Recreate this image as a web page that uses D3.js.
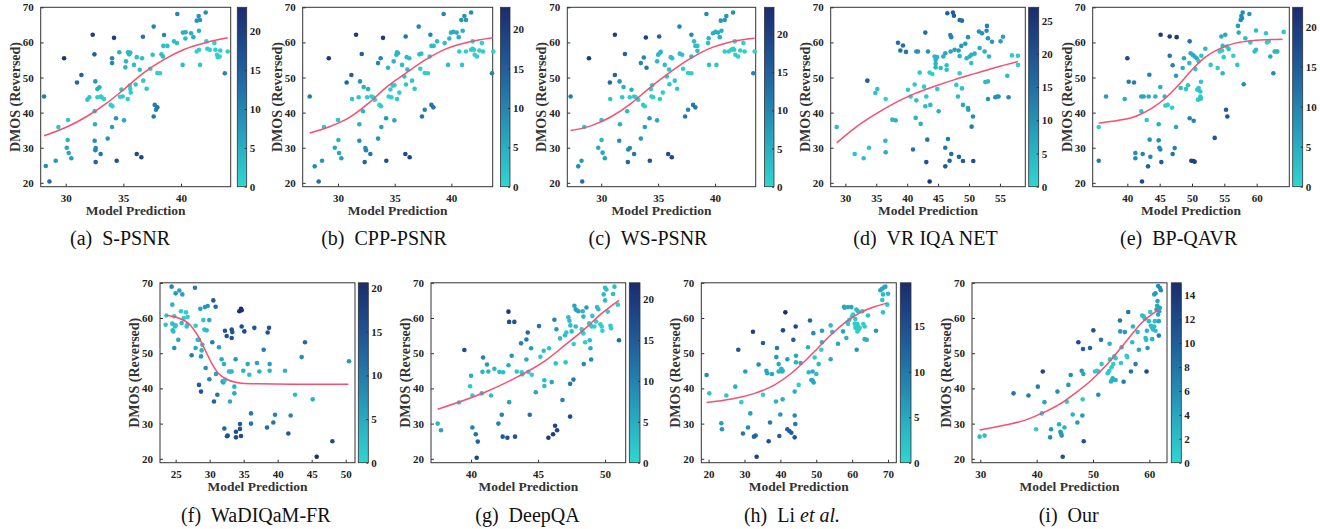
<!DOCTYPE html>
<html>
<head>
<meta charset="utf-8">
<script src="https://cdn.jsdelivr.net/npm/d3@7"></script>
<style>
  body { margin: 0; background: #fff; }
  text { font-family: "Liberation Serif", "Times New Roman", serif; }
</style>
</head>
<body>
<script>
// scatter points: [model prediction, DMOS (reversed), colour value]
const ptsA = [[28.12,44.6,11],[28.27,24.8,9],[28.59,20.4,13],[29.13,26.3,8],[29.36,35.9,2],[29.86,55.5,21],[30.09,30.0,6],[30.2,37.9,2],[30.17,32.2,4],[30.26,28.5,6],[30.49,27.0,7],[30.98,48.6,14],[31.36,50.7,15],[31.88,43.7,2],[32.05,44.4,2],[32.34,62.2,20],[32.49,56.6,15],[32.51,40.4,4],[32.54,36.7,5],[32.51,32.0,9],[32.57,48.9,8],[32.6,29.9,10],[32.57,29.3,10],[32.6,25.9,14],[32.75,46.7,5],[32.92,47.2,5],[32.75,44.4,1],[33.03,44.6,1],[33.12,44.4,1],[33.32,43.9,1],[33.03,28.2,12],[33.64,32.6,8],[33.9,42.2,1],[34.05,41.8,1],[34.02,55.5,10],[34.02,54.1,10],[34.02,35.9,7],[34.19,61.3,20],[34.36,38.4,8],[34.42,26.3,17],[34.65,57.2,5],[34.71,44.5,1],[34.94,44.6,1],[34.83,46.6,1],[35.06,37.8,6],[35.23,54.6,4],[35.17,52.9,4],[35.38,43.9,1],[35.4,57.2,4],[35.5,56.6,4],[35.6,57.1,4],[35.55,47.7,1],[35.6,46.7,1],[35.64,45.7,1],[35.92,53.6,3],[36.07,48.0,2],[36.16,55.8,3],[36.16,28.2,18],[36.42,52.2,3],[36.56,27.3,19],[36.62,55.5,3],[36.7,61.6,12],[36.73,49.1,2],[37.02,46.8,2],[37.34,52.5,1],[37.54,56.5,3],[37.63,64.5,10],[37.63,38.9,12],[37.72,42.2,11],[37.83,40.8,10],[37.95,41.5,12],[37.95,51.3,1],[38.18,51.2,1],[38.3,56.6,3],[38.44,56.0,3],[38.47,59.0,3],[38.53,62.1,10],[38.82,59.0,3],[39.39,60.3,3],[39.65,59.8,3],[39.68,68.1,10],[40.14,53.6,3],[40.17,62.8,5],[40.38,61.1,4],[40.4,62.9,5],[40.87,62.6,5],[41.07,61.5,5],[41.36,66.2,8],[41.36,57.4,1],[41.53,67.5,8],[41.56,63.3,5],[41.56,57.9,1],[41.65,66.4,8],[41.65,53.6,2],[42.14,68.5,9],[42.2,60.3,1],[42.28,58.2,1],[42.5,57.9,1],[42.9,59.8,1],[42.98,57.9,1],[43.12,56.5,1],[43.2,55.8,1],[43.35,56.0,1],[43.4,57.7,1],[43.8,51.2,10],[44.05,57.4,1]];
const fitA = [[28.12,33.4],[30.09,35.9],[31.82,38.9],[33.55,42.7],[35.0,46.5],[36.73,51.25],[38.47,55.0],[40.2,57.9],[42.23,60.0],[44.05,61.3]];

const ptsB = [[27.5,44.6,11],[27.94,24.7,9],[28.29,20.4,13],[28.59,26.3,8],[28.76,35.9,2],[29.18,55.5,21],[29.71,30.0,6],[30.0,37.9,2],[30.03,32.2,4],[30.09,28.5,6],[30.29,27.0,7],[30.76,48.6,14],[31.18,50.7,15],[31.24,43.9,2],[31.59,62.2,20],[31.82,44.4,2],[31.88,36.7,5],[31.88,32.0,9],[31.94,48.9,8],[32.09,56.7,15],[32.26,47.3,5],[32.2,40.4,4],[32.35,25.9,14],[32.41,29.9,10],[32.47,29.3,10],[32.56,44.4,1],[32.65,46.7,5],[32.85,28.2,12],[32.94,44.6,1],[33.09,44.4,1],[33.24,43.7,1],[33.53,32.6,8],[33.53,54.1,10],[33.65,42.2,1],[33.79,41.8,1],[33.76,55.5,10],[33.82,35.9,7],[33.97,61.3,20],[34.24,38.4,8],[34.26,26.3,17],[34.41,52.8,4],[34.47,44.6,1],[34.62,46.6,1],[34.71,44.4,1],[34.82,47.7,1],[34.91,54.6,4],[34.97,37.8,6],[34.97,47.8,1],[35.15,56.5,4],[35.21,57.2,4],[35.29,56.9,4],[35.21,43.9,1],[35.41,45.7,1],[35.65,53.6,3],[35.85,50.3,2],[35.97,61.7,12],[35.94,28.2,18],[36.0,48.0,2],[36.06,55.8,3],[36.12,52.3,3],[36.29,55.5,3],[36.32,27.3,19],[36.53,49.1,2],[36.76,46.8,2],[37.12,64.5,10],[37.18,56.6,3],[37.35,56.8,3],[37.26,52.5,1],[37.41,38.9,12],[37.65,51.3,1],[37.94,51.2,1],[37.65,40.8,10],[38.15,62.2,10],[38.09,56.0,3],[38.24,42.2,12],[38.41,41.5,12],[38.24,59.0,3],[38.44,59.0,3],[38.74,60.3,3],[39.32,68.1,10],[39.41,59.8,3],[39.71,53.6,3],[39.82,61.1,4],[39.97,62.8,5],[40.18,63.0,5],[40.47,62.8,5],[40.65,61.5,5],[40.7,57.4,1],[40.94,53.6,2],[41.0,63.3,5],[40.88,66.4,8],[41.15,67.5,8],[41.29,66.4,8],[41.29,57.4,1],[41.74,68.5,9],[41.74,57.9,1],[41.88,58.2,1],[42.0,57.9,1],[41.88,60.3,1],[42.06,56.5,1],[42.26,56.0,1],[42.47,57.7,1],[42.7,59.8,1],[42.79,57.4,1],[43.59,51.2,10],[43.7,57.4,1]];
const fitB = [[27.5,34.2],[29.18,35.9],[30.94,38.5],[32.7,42.7],[34.18,47.0],[35.94,51.1],[37.7,55.0],[39.47,58.1],[41.53,60.1],[43.65,61.3]];

const ptsC = [[27.31,44.6,11],[27.98,24.7,9],[28.33,20.4,13],[28.27,26.3,8],[28.51,35.9,2],[28.92,55.5,21],[29.74,30.0,6],[30.03,37.9,2],[30.03,32.2,4],[30.12,28.6,6],[30.32,27.0,7],[30.76,48.6,14],[31.2,50.7,15],[30.79,43.9,2],[31.2,62.2,20],[31.61,48.9,8],[31.64,36.7,5],[31.58,32.0,9],[31.84,44.4,2],[31.96,47.3,5],[32.08,56.7,15],[32.28,40.4,4],[32.34,25.9,14],[32.37,29.5,10],[32.51,29.9,10],[32.51,44.4,1],[32.66,46.5,5],[32.89,28.2,12],[32.89,44.6,1],[33.04,44.4,1],[33.25,43.7,1],[33.48,32.6,8],[33.48,54.1,10],[33.68,42.2,1],[33.83,41.8,1],[33.74,55.7,10],[33.83,35.9,7],[33.92,61.4,20],[33.98,52.8,12],[34.27,26.3,17],[34.24,38.4,8],[34.36,46.7,1],[34.42,44.6,1],[34.56,44.4,1],[34.47,47.8,1],[34.91,54.6,4],[34.91,37.8,6],[35.0,56.5,4],[35.12,56.9,4],[35.09,61.7,15],[35.23,57.3,4],[35.15,43.9,1],[35.41,45.7,1],[35.58,53.6,3],[35.76,50.3,2],[35.88,28.2,18],[35.96,52.3,2],[35.99,48.1,2],[36.11,55.8,3],[36.23,55.5,3],[36.2,27.3,19],[36.46,49.1,2],[36.67,46.8,2],[36.87,64.5,10],[36.9,56.8,3],[37.11,56.5,3],[37.19,52.5,1],[37.37,38.9,12],[37.63,40.8,10],[37.63,51.3,1],[37.92,51.2,1],[37.92,62.2,10],[37.92,56.0,3],[38.07,42.2,12],[38.27,41.5,12],[38.16,60.3,3],[38.27,59.0,3],[38.45,59.0,3],[38.45,57.6,3],[39.24,68.1,10],[39.39,59.8,3],[39.44,61.2,4],[39.47,53.6,3],[39.82,62.6,5],[40.03,63.0,5],[40.26,62.8,5],[40.12,53.6,2],[40.41,61.5,5],[40.56,63.3,5],[40.5,66.2,8],[40.85,66.4,8],[40.99,67.5,8],[40.85,57.4,1],[41.58,68.5,9],[41.2,57.4,1],[41.43,57.9,1],[41.58,58.2,1],[41.67,57.9,1],[41.73,60.3,1],[41.78,56.5,1],[42.02,56.0,1],[42.22,57.7,1],[42.49,59.8,1],[42.6,57.4,1],[43.36,51.2,10],[43.48,57.4,1]];
const fitC = [[27.31,34.9],[29.15,36.3],[30.91,38.9],[32.66,42.7],[34.12,46.7],[35.88,51.1],[37.63,55.0],[39.39,58.1],[41.43,60.2],[43.48,61.2]];

const ptsD = [[28.6,35.9,4],[31.51,28.2,3],[32.96,27.0,3],[33.56,49.1,18],[33.83,30.0,3],[34.85,45.6,3],[35.17,46.7,3],[36.52,43.9,1],[36.47,32.0,5],[36.52,28.7,6],[37.6,38.0,5],[38.14,37.8,5],[38.51,59.9,15],[39.32,59.1,15],[38.89,57.7,15],[39.81,57.3,14],[40.13,46.5,2],[40.56,44.6,2],[40.94,29.5,14],[41.21,48.0,2],[41.37,38.5,5],[41.48,43.5,3],[41.48,57.4,10],[41.75,57.4,10],[42.02,51.4,2],[42.18,36.8,6],[42.72,47.4,1],[42.93,41.8,4],[43.09,44.6,2],[42.93,62.8,15],[43.09,25.9,20],[43.25,32.3,14],[43.36,57.4,10],[43.63,51.4,1],[43.74,42.2,4],[44.06,51.0,1],[43.63,20.4,25],[44.44,56.0,5],[44.6,55.0,5],[44.6,53.9,5],[44.6,52.9,5],[44.82,55.8,5],[44.87,46.7,2],[45.09,40.4,6],[45.41,52.7,4],[45.84,56.0,6],[46.16,56.9,7],[46.16,30.0,14],[46.16,24.7,18],[46.38,52.2,3],[46.38,53.5,3],[46.49,68.3,17],[46.59,32.5,13],[46.86,26.3,17],[47.03,57.4,8],[46.97,62.1,12],[47.13,61.5,12],[47.13,28.2,16],[47.4,68.5,18],[47.56,67.6,18],[47.67,57.9,8],[47.94,47.9,2],[48.21,44.6,4],[48.32,57.7,8],[48.37,27.4,17],[48.48,51.2,1],[48.48,56.1,5],[48.48,66.4,15],[48.86,66.2,15],[48.75,59.0,9],[48.86,46.9,3],[49.02,42.2,7],[49.02,26.2,18],[49.4,59.6,9],[49.61,55.5,5],[49.83,41.3,8],[49.88,40.8,8],[49.83,61.5,10],[50.1,56.0,5],[50.37,56.5,5],[50.37,54.1,3],[50.42,36.0,13],[50.64,38.9,11],[50.69,26.2,20],[50.9,56.8,5],[51.6,63.1,10],[52.09,62.6,10],[51.71,58.4,6],[52.52,57.4,6],[52.63,48.7,4],[53.06,48.9,4],[52.9,64.7,12],[52.84,63.3,11],[53.06,61.2,10],[53.22,56.0,5],[53.06,43.9,10],[53.71,60.2,9],[54.25,44.4,10],[54.57,44.6,10],[54.78,44.6,10],[55.1,60.3,8],[55.49,61.6,8],[56.19,50.5,4],[56.4,44.4,11],[56.94,56.3,2],[57.91,56.2,2],[57.91,53.6,1]];
const fitD = [[28.6,31.4],[31.51,35.6],[34.74,39.4],[37.97,42.7],[41.21,45.4],[44.44,47.5],[47.67,49.4],[50.9,51.1],[54.14,52.8],[57.91,54.6]];

const ptsE = [[35.57,35.9,1],[35.57,26.3,11],[36.7,44.6,7],[39.59,43.9,5],[40.0,55.5,18],[40.21,48.8,11],[41.03,48.6,11],[41.24,28.5,9],[41.24,27.0,9],[42.16,40.4,2],[42.16,44.6,6],[42.53,44.6,6],[42.37,28.2,10],[42.27,20.4,18],[42.99,37.9,2],[43.2,24.7,14],[43.4,50.8,10],[43.3,44.6,5],[43.45,32.3,8],[43.56,27.4,10],[44.33,44.6,4],[44.85,36.7,5],[44.85,32.1,9],[44.95,30.0,9],[45.1,29.5,9],[45.1,47.3,5],[45.15,62.2,20],[45.26,25.9,15],[45.77,44.6,3],[45.88,42.0,1],[46.24,42.2,1],[46.55,61.7,20],[46.55,56.2,12],[46.91,41.4,1],[47.01,53.5,10],[47.01,28.2,12],[47.32,29.9,10],[47.63,61.5,20],[47.53,50.5,7],[47.53,35.9,6],[48.25,47.0,3],[48.56,52.7,5],[48.76,55.5,6],[49.07,46.7,2],[49.38,47.8,2],[49.64,60.3,12],[49.59,54.1,4],[49.64,38.4,10],[49.79,56.9,5],[49.9,26.3,19],[50.21,26.2,19],[50.41,26.0,19],[50.26,37.7,10],[50.1,56.5,5],[50.41,56.0,5],[50.72,55.5,5],[50.52,52.4,2],[50.82,46.5,2],[50.93,43.7,2],[51.03,47.0,2],[51.29,46.0,2],[51.29,44.6,2],[51.39,44.0,2],[51.39,48.8,2],[51.03,54.6,2],[51.44,56.2,2],[52.06,58.2,4],[52.89,53.6,2],[53.51,32.8,16],[53.97,52.7,1],[54.28,57.4,1],[54.64,57.7,1],[54.54,61.7,5],[54.74,59.0,3],[54.74,51.2,4],[54.9,55.8,1],[55.15,62.2,6],[55.26,40.8,15],[55.46,38.9,16],[55.41,58.8,2],[55.67,58.1,2],[56.39,56.2,1],[57.01,53.6,2],[57.22,62.8,5],[57.11,64.7,7],[57.53,66.4,9],[57.63,67.5,9],[57.84,68.5,9],[57.73,66.9,9],[58.0,48.1,9],[58.25,61.2,3],[58.87,68.1,8],[59.02,60.0,1],[59.69,57.4,3],[59.9,57.9,3],[59.9,63.4,3],[61.44,62.6,2],[61.6,60.0,1],[61.86,60.3,1],[62.11,56.0,5],[62.58,51.2,9],[62.78,57.4,4],[62.99,57.4,4],[63.2,57.4,4],[64.18,63.0,2]];
const fitE = [[35.57,37.0],[38.66,37.8],[41.24,38.9],[43.81,41.3],[45.88,44.1],[47.94,47.9],[50.0,52.2],[52.06,55.8],[54.12,58.1],[56.7,59.8],[59.28,60.5],[64.0,60.9]];

const ptsF = [[23.53,58.1,2],[23.63,60.7,0],[24.41,68.9,9],[24.51,63.8,4],[24.51,58.4,3],[24.56,56.5,3],[24.66,56.2,3],[24.8,51.5,8],[24.9,57.6,2],[25.0,57.9,2],[25.0,67.0,7],[24.8,60.5,1],[25.39,53.8,5],[25.54,67.8,6],[25.78,61.9,1],[25.88,58.6,3],[25.98,66.7,6],[26.18,60.0,1],[26.52,61.6,1],[26.62,57.6,2],[26.72,58.1,2],[26.76,60.3,1],[27.35,49.4,10],[27.84,68.6,10],[27.94,51.5,5],[27.94,57.8,1],[28.24,53.8,3],[28.43,53.8,3],[28.43,41.0,14],[28.63,62.6,6],[28.73,49.1,7],[28.73,39.1,15],[28.82,50.8,4],[28.92,52.4,2],[29.07,59.4,2],[29.22,56.7,2],[29.31,63.1,7],[29.41,45.8,8],[29.71,63.4,7],[29.56,56.5,3],[29.95,59.4,5],[29.95,42.6,9],[30.39,53.1,10],[30.54,65.0,14],[30.64,36.3,13],[30.88,63.2,12],[31.13,38.2,11],[30.93,44.1,6],[31.37,51.7,6],[31.76,48.3,5],[31.91,42.0,5],[32.01,41.7,5],[32.11,46.9,4],[32.25,42.4,2],[32.16,28.6,13],[32.25,56.4,15],[32.5,54.9,15],[32.55,26.4,15],[32.65,26.6,15],[32.84,44.8,3],[32.99,36.3,5],[33.14,44.8,3],[33.24,44.8,3],[33.24,56.7,15],[33.33,56.0,15],[33.24,54.3,15],[33.63,40.5,4],[33.63,38.6,5],[33.82,48.3,7],[33.87,27.7,16],[33.87,26.1,16],[34.36,61.9,20],[34.61,62.6,20],[34.71,62.2,20],[34.46,29.9,14],[34.46,28.5,15],[34.61,26.5,16],[34.71,57.6,16],[34.95,45.0,4],[35.1,56.2,16],[35.59,46.9,5],[35.83,43.9,3],[36.08,32.9,10],[36.08,30.0,11],[36.57,57.2,15],[36.96,47.2,6],[37.3,44.8,4],[37.94,51.0,10],[38.43,28.9,12],[38.53,55.9,15],[38.73,57.2,15],[38.82,46.9,6],[38.82,45.0,4],[39.36,30.3,11],[39.61,32.5,9],[41.08,45.0,4],[41.91,32.3,9],[41.57,27.2,14],[42.55,38.2,3],[43.53,48.9,8],[44.02,53.1,12],[45.15,36.9,4],[45.74,20.6,20],[48.04,25.0,16],[50.49,47.7,7]];
const fitF = [[23.53,60.8],[25.39,60.0],[27.11,58.1],[28.33,54.8],[29.31,51.0],[30.29,47.2],[31.27,44.3],[32.75,42.4],[34.71,41.5],[37.16,41.3],[42.06,41.2],[50.39,41.2]];

const ptsG = [[37.51,30.0,4],[37.76,28.1,6],[39.1,36.0,1],[39.5,50.9,17],[39.93,40.6,2],[40.0,43.6,5],[40.1,38.0,1],[40.1,28.9,10],[40.35,27.0,12],[40.5,24.9,14],[40.42,20.3,18],[40.8,38.6,3],[40.85,44.7,4],[41.29,44.8,4],[40.9,48.8,10],[41.19,46.8,7],[41.49,38.0,3],[41.74,45.6,4],[42.04,30.0,10],[42.11,44.7,3],[42.39,44.6,3],[42.29,32.5,10],[42.36,26.3,15],[42.71,26.0,16],[42.79,46.6,5],[42.79,61.8,20],[42.84,58.9,17],[42.84,36.1,6],[43.03,49.3,8],[43.23,58.9,16],[43.28,26.3,16],[43.41,44.8,2],[43.73,52.8,10],[43.78,44.6,1],[43.83,44.0,1],[44.13,53.9,11],[44.13,48.2,5],[44.23,55.9,13],[44.28,44.7,1],[44.38,32.5,12],[44.48,51.4,7],[44.53,43.9,1],[44.83,38.9,6],[45.07,57.7,12],[45.17,49.0,2],[45.42,50.7,3],[45.47,42.3,3],[45.47,40.7,3],[45.77,26.0,20],[45.82,51.4,2],[46.02,41.8,6],[46.12,27.0,19],[46.22,59.5,10],[46.27,29.4,18],[46.42,28.1,18],[46.32,47.1,2],[46.37,56.8,7],[46.64,54.2,3],[46.82,36.7,10],[47.01,55.1,3],[47.06,47.4,2],[47.11,55.9,2],[47.26,60.2,3],[47.34,59.2,3],[47.39,41.3,11],[47.39,32.0,17],[47.41,57.9,3],[47.51,56.2,3],[47.64,42.5,11],[47.66,52.6,1],[47.71,63.5,6],[47.81,62.5,6],[47.89,62.2,6],[48.01,61.9,6],[47.81,57.6,3],[48.26,56.8,1],[48.31,56.1,1],[48.38,55.6,1],[48.33,61.9,4],[48.38,60.4,4],[48.41,46.9,9],[48.51,53.1,1],[48.61,63.0,7],[48.81,58.5,1],[48.91,58.0,1],[49.0,57.6,1],[48.86,53.7,3],[48.91,51.4,5],[48.96,48.2,9],[49.05,60.6,2],[49.2,57.6,1],[49.33,59.0,1],[49.4,63.1,3],[49.5,62.5,3],[49.65,58.2,1],[49.75,57.6,1],[49.8,56.4,1],[49.9,66.7,3],[50.0,65.0,3],[50.0,68.6,3],[50.1,68.1,3],[50.2,61.8,1],[50.4,57.8,1],[50.45,57.1,1],[50.6,66.8,3],[50.7,68.9,3],[50.95,63.8,1],[51.04,53.7,13]];
const fitG = [[37.51,34.1],[41.04,38.9],[43.53,43.4],[45.52,47.8],[47.01,52.3],[48.51,57.0],[49.75,61.3],[51.04,65.0]];

const ptsH = [[19.44,43.8,8],[20.19,38.6,2],[23.53,30.1,6],[23.72,28.4,7],[24.93,38.0,2],[27.43,40.5,4],[28.27,51.0,14],[29.11,36.1,1],[29.57,27.2,10],[30.22,44.8,6],[30.97,28.9,8],[31.62,32.9,6],[32.36,56.1,17],[32.64,26.3,12],[33.1,26.6,12],[33.38,20.6,17],[33.94,46.8,8],[35.15,52.9,13],[35.15,38.2,1],[36.08,45.0,5],[36.36,44.3,5],[36.73,25.0,15],[37.1,30.3,10],[37.66,44.1,5],[38.87,48.9,7],[39.05,51.5,10],[38.77,36.3,4],[39.52,44.8,4],[39.52,46.9,5],[39.7,26.5,13],[39.98,32.6,7],[40.26,45.6,4],[40.45,44.8,4],[40.63,45.0,4],[40.63,36.9,4],[40.72,56.5,16],[41.38,61.6,20],[41.93,48.3,6],[41.93,28.4,13],[42.49,27.9,13],[43.05,27.4,13],[43.61,53.8,13],[43.98,39.1,4],[43.98,32.3,8],[44.16,29.9,10],[43.98,26.1,14],[44.26,57.6,16],[44.35,47.4,4],[44.35,49.3,5],[45.09,41.0,1],[45.65,47.2,4],[47.7,51.7,4],[47.88,44.6,3],[48.25,59.3,12],[48.62,42.4,5],[48.99,42.2,5],[49.28,41.7,5],[48.99,44.8,4],[49.18,55.7,8],[49.55,48.8,1],[50.02,44.1,3],[50.67,46.9,3],[51.6,56.4,6],[51.6,53.1,4],[51.41,51.0,1],[54.01,48.3,5],[54.01,57.9,3],[54.48,56.0,3],[56.06,52.7,5],[57.46,56.2,5],[57.73,63.2,5],[57.92,62.9,5],[58.85,63.1,5],[59.78,63.1,5],[58.38,54.3,4],[58.66,58.8,1],[58.85,58.3,1],[59.22,59.5,1],[59.96,60.5,1],[60.24,61.0,1],[60.71,58.4,1],[60.89,59.7,1],[60.89,57.2,1],[61.17,57.8,1],[61.45,58.3,1],[61.64,57.5,1],[61.82,56.7,1],[62.1,57.2,1],[61.45,56.2,1],[61.26,51.0,7],[61.17,62.4,3],[61.64,61.9,3],[62.84,61.9,2],[63.12,58.3,1],[63.49,57.6,1],[63.49,54.0,4],[64.05,53.8,4],[64.42,60.7,2],[66.65,56.4,7],[67.86,67.9,5],[68.33,68.3,5],[68.88,68.7,5],[69.26,68.9,5],[68.59,66.7,3],[68.4,65.1,2],[68.59,61.6,2],[69.8,63.8,1],[70.0,66.9,3]];
const fitH = [[19.44,36.0],[26.32,37.0],[32.83,38.6],[38.4,41.0],[43.05,44.3],[46.77,47.7],[50.48,51.5],[54.2,55.3],[57.92,58.6],[61.64,61.2],[66.28,63.2],[69.8,64.3]];

const ptsI = [[29.88,26.3,2],[30.77,26.6,2],[35.9,38.6,8],[38.55,38.0,7],[39.91,28.4,1],[40.21,40.5,7],[40.91,32.9,1],[41.09,44.8,12],[41.39,36.1,4],[42.39,26.1,6],[42.57,28.4,5],[43.69,39.1,6],[43.98,29.8,3],[44.22,27.7,5],[44.34,27.2,5],[44.45,26.6,5],[44.63,20.6,11],[44.93,28.9,3],[45.34,36.2,1],[45.63,41.0,5],[46.05,43.8,6],[46.4,32.6,3],[47.23,30.3,5],[47.4,53.1,12],[47.99,45.0,5],[48.17,36.9,1],[48.23,51.2,10],[48.29,44.1,4],[48.11,32.3,5],[48.35,25.0,11],[49.47,51.5,9],[50.06,56.5,11],[50.35,44.8,1],[50.71,45.0,1],[50.94,44.8,1],[50.94,38.2,6],[51.42,53.8,8],[51.53,46.9,1],[52.6,44.3,1],[52.89,45.0,1],[52.95,52.7,3],[53.01,48.3,1],[53.19,42.0,3],[53.48,42.9,3],[53.78,42.4,3],[53.3,46.0,1],[53.6,46.9,1],[53.78,49.1,1],[54.01,48.6,1],[54.01,42.4,3],[54.78,59.3,8],[54.84,56.2,5],[54.96,47.2,1],[55.07,51.7,2],[55.43,41.9,7],[55.66,56.0,5],[55.96,49.3,1],[56.08,48.9,1],[56.25,61.7,8],[56.73,44.8,8],[56.96,53.1,2],[57.08,57.6,3],[57.55,46.9,7],[57.91,56.0,2],[58.14,51.0,4],[58.73,60.7,2],[58.97,60.5,2],[59.2,59.8,2],[59.32,54.3,2],[59.44,53.8,2],[59.5,44.8,12],[59.56,56.4,3],[59.68,51.5,5],[59.91,59.1,2],[60.15,61.7,1],[60.27,57.8,2],[60.5,57.2,2],[60.68,56.7,2],[60.86,57.6,2],[60.97,59.1,2],[61.09,56.4,2],[60.5,54.0,3],[60.86,66.7,4],[61.09,67.0,5],[61.27,62.4,4],[61.39,63.5,4],[61.45,64.8,4],[61.56,61.0,4],[61.68,59.1,4],[61.74,61.9,4],[61.86,62.9,4],[61.56,69.1,6],[61.86,68.6,6],[62.04,67.9,6],[61.68,55.0,7]];
const fitI = [[29.88,28.2],[34.42,29.6],[37.96,31.0],[40.91,32.9],[43.86,35.3],[46.81,38.6],[49.76,42.4],[52.71,47.2],[55.66,52.9],[58.61,58.6],[61.86,62.6]];

// axis ticks and colour-bar ranges
const yTicks = [20, 30, 40, 50, 60, 70];
const xTicksA = [30, 35, 40];
const xTicksD = [30, 35, 40, 45, 50, 55];
const xTicksE = [40, 45, 50, 55, 60];
const xTicksF = [25, 30, 35, 40, 45, 50];
const xTicksG = [40, 45, 50];
const xTicksH = [20, 30, 40, 50, 60, 70];
const xTicksI = [30, 40, 50, 60];
const cTicks20 = [0, 5, 10, 15, 20];
const cTicks25 = [0, 5, 10, 15, 20, 25];
const cTicks15 = [0, 5, 10, 15];
const cTicks14 = [0, 2, 4, 6, 8, 10, 12, 14];
const captions = ["S-PSNR", "CPP-PSNR", "WS-PSNR", "VR IQA NET", "BP-QAVR", "WaDIQaM-FR", "DeepQA", "Li", "Our"];

// layout
const rows = [[7.3, 186.7, 245], [282.8, 462.7, 521.5]];
const yDom = [18.9, 70];
const panels = [
  {tag: "a", pts: ptsA, fit: fitA, xDom: [27.83, 44.31], xTicks: xTicksA, cMax: 23.1, cTicks: cTicks20, box: [40.7, 230.7], bar: [237.3, 246.7], row: 0, capX: 120},
  {tag: "b", pts: ptsB, fit: fitB, xDom: [26.88, 43.65], xTicks: xTicksA, cMax: 22.8, cTicks: cTicks20, box: [302.7, 492.7], bar: [500.5, 510], row: 0, capX: 384},
  {tag: "c", pts: ptsC, fit: fitC, xDom: [27.02, 43.57], xTicks: xTicksA, cMax: 23.5, cTicks: cTicks20, box: [567.3, 755.7], bar: [764.5, 774], row: 0, capX: 648},
  {tag: "d", pts: ptsD, fit: fitD, xDom: [27.63, 59.1], xTicks: xTicksD, cMax: 27.0, cTicks: cTicks25, box: [830.7, 1025.3], bar: [1028.7, 1038.7], row: 0, capX: 925.5},
  {tag: "e", pts: ptsE, fit: fitE, xDom: [34.64, 65.05], xTicks: xTicksE, cMax: 22.4, cTicks: cTicks20, box: [1092.7, 1289.3], bar: [1292.7, 1302.7], row: 0, capX: 1178.7},
  {tag: "f", pts: ptsF, fit: fitF, xDom: [22.7, 51.37], xTicks: xTicksF, cMax: 20.6, cTicks: cTicks20, box: [160, 355], bar: [358.3, 368.3], row: 1, capX: 255.8},
  {tag: "g", pts: ptsG, fit: fitG, xDom: [37.01, 51.54], xTicks: xTicksG, cMax: 22.0, cTicks: cTicks20, box: [431, 625.7], bar: [629.3, 640], row: 1, capX: 527.5},
  {tag: "h", pts: ptsH, fit: fitH, xDom: [17.96, 72.3], xTicks: xTicksH, cMax: 19.8, cTicks: cTicks15, box: [701.3, 896.3], bar: [900.3, 911], row: 1, capX: 792},
  {tag: "i", pts: ptsI, fit: fitI, xDom: [28.53, 63.13], xTicks: xTicksI, cMax: 15.05, cTicks: cTicks14, box: [972, 1167], bar: [1171.3, 1181.3], row: 1, capX: 1068.7}
];

const cmap = d3.interpolateRgbBasis(["#30d6d0", "#28a9c2", "#2279ab", "#1e4f92", "#1b2c6e"]);
const axisColor = "#333";

const svg = d3.select("body").append("svg")
    .attr("width", 1320)
    .attr("height", 529);

const defs = svg.append("defs");
const grad = defs.append("linearGradient")
    .attr("id", "cbar")
    .attr("x1", 0).attr("y1", 1).attr("x2", 0).attr("y2", 0);
d3.range(0, 1.0001, 0.1).forEach(t => {
    grad.append("stop").attr("offset", t).attr("stop-color", cmap(t));
});

function styleAxis(g) {
    g.select(".domain").remove();
    g.selectAll("line").attr("stroke", axisColor);
    g.selectAll("text")
        .attr("fill", "#222")
        .style("font-size", "11px")
        .style("font-weight", "bold")
        .style("font-family", "'Liberation Serif', 'Times New Roman', serif");
}

panels.forEach((p, i) => {
    const [top, bottom, capY] = rows[p.row];
    const x = d3.scaleLinear().domain(p.xDom).range(p.box);
    const y = d3.scaleLinear().domain(yDom).range([bottom, top]);
    const color = d3.scaleSequential(cmap).domain([0, p.cMax]);
    const g = svg.append("g").attr("class", "panel-" + p.tag);

    g.append("g")
        .attr("transform", `translate(0,${bottom})`)
        .call(d3.axisBottom(x).tickValues(p.xTicks).tickSizeInner(-3).tickSizeOuter(0).tickPadding(8))
        .call(styleAxis);
    g.append("g")
        .attr("transform", `translate(${p.box[0]},0)`)
        .call(d3.axisLeft(y).tickValues(yTicks).tickSizeInner(-3).tickSizeOuter(0).tickPadding(7))
        .call(styleAxis);

    g.append("rect")
        .attr("x", p.box[0])
        .attr("y", top)
        .attr("width", p.box[1] - p.box[0])
        .attr("height", bottom - top)
        .attr("fill", "none")
        .attr("stroke", axisColor)
        .attr("stroke-width", 1);

    g.append("g").selectAll("circle")
        .data(p.pts)
        .join("circle")
        .attr("cx", d => x(d[0]))
        .attr("cy", d => y(d[1]))
        .attr("r", 2.3)
        .attr("fill", d => color(d[2]));

    const line = d3.line()
        .x(d => x(d[0]))
        .y(d => y(d[1]))
        .curve(d3.curveMonotoneX);
    g.append("path")
        .datum(p.fit)
        .attr("d", line)
        .attr("fill", "none")
        .attr("stroke", "#f4506f")
        .attr("stroke-width", 1.5);

    // colour bar
    const cy = d3.scaleLinear().domain([0, p.cMax]).range([bottom, top]);
    g.append("rect")
        .attr("x", p.bar[0])
        .attr("y", top)
        .attr("width", p.bar[1] - p.bar[0])
        .attr("height", bottom - top)
        .attr("fill", "url(#cbar)")
        .attr("stroke", axisColor)
        .attr("stroke-width", 0.8);
    g.append("g")
        .attr("transform", `translate(${p.bar[1]},0)`)
        .call(d3.axisRight(cy).tickValues(p.cTicks).tickSizeInner(-2).tickSizeOuter(0).tickPadding(3))
        .call(styleAxis);

    // axis titles
    g.append("text")
        .attr("x", (p.box[0] + p.box[1]) / 2)
        .attr("y", bottom + 28)
        .attr("text-anchor", "middle")
        .attr("fill", "#333")
        .style("font-size", "13.5px")
        .style("font-weight", "bold")
        .text("Model Prediction");
    g.append("text")
        .attr("transform", `translate(${p.box[0] - 25.5},${(top + bottom) / 2}) rotate(-90)`)
        .attr("text-anchor", "middle")
        .attr("dominant-baseline", "central")
        .attr("fill", "#333")
        .style("font-size", "14px")
        .style("font-weight", "bold")
        .text("DMOS (Reversed)");

    // caption
    const cap = g.append("text")
        .attr("x", p.capX)
        .attr("y", capY)
        .attr("text-anchor", "middle")
        .attr("fill", "#111")
        .style("font-size", "20px");
    cap.append("tspan").text(`(${p.tag})\u00a0\u00a0${captions[i]}`);
    if (p.tag === "h") {
        cap.append("tspan").text("\u00a0");
        cap.append("tspan").style("font-style", "italic").text("et al.");
    }
});
</script>
</body>
</html>
